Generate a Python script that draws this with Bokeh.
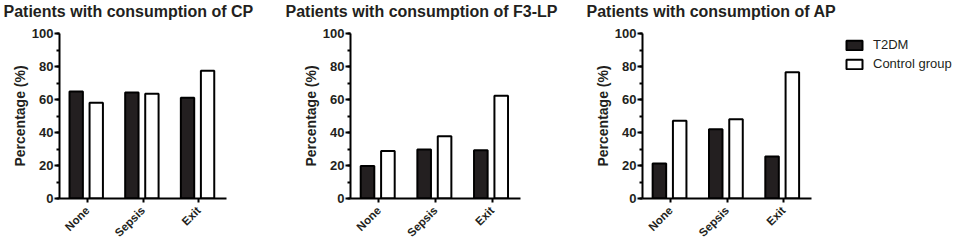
from math import pi
from bokeh.plotting import figure
from bokeh.layouts import row
from bokeh.models import (ColumnDataSource, FactorRange, Range1d, SingleIntervalTicker,
                          Legend, LegendItem, Title)
from bokeh.transform import dodge
from bokeh.embed import file_html
from bokeh.resources import INLINE

categories = ["None", "Sepsis", "Exit"]
titles = ["Patients with consumption of CP",
          "Patients with consumption of F3-LP",
          "Patients with consumption of AP"]
series_names = ["T2DM", "Control group"]
y_label = "Percentage (%)"

cp_t2dm = [64.8, 64.2, 61.0]
cp_control = [58.0, 63.5, 77.4]
f3lp_t2dm = [19.7, 29.7, 29.3]
f3lp_control = [28.8, 37.7, 62.2]
ap_t2dm = [21.2, 41.9, 25.5]
ap_control = [47.1, 48.0, 76.5]

FONT = "Liberation Sans"
DARK = "#231f20"
TXT = "#231f20"
T2DM_STYLE = dict(fill_color=DARK, line_color="black", line_width=2)
CTRL_STYLE = dict(fill_color="white", line_color="black", line_width=2)


def make_panel(title, t2dm, control, width, left, right, title_offset):
    p = figure(width=width, height=246, title=None,
               x_range=FactorRange(*categories, range_padding=0),
               y_range=Range1d(0, 100),
               output_backend="svg", toolbar_location=None,
               min_border_left=left, min_border_right=right,
               min_border_top=33, min_border_bottom=47)
    # spacer (closest to the frame) then the real title
    p.add_layout(Title(text=" ", text_font_size="1px", standoff=8), "above")
    p.add_layout(Title(text=title, align="left", vertical_align="top",
                       offset=title_offset, standoff=2, text_font=FONT,
                       text_font_size="16px", text_font_style="bold",
                       text_color=TXT), "above")
    p.xgrid.visible = False
    p.ygrid.visible = False
    p.outline_line_color = None
    p.background_fill_color = "white"
    p.border_fill_color = "white"

    ya = p.yaxis[0]
    ya.ticker = SingleIntervalTicker(interval=20, num_minor_ticks=2)
    ya.axis_label = y_label
    ya.axis_label_text_font = FONT
    ya.axis_label_text_font_style = "bold"
    ya.axis_label_text_font_size = "14px"
    ya.axis_label_text_color = TXT
    ya.axis_label_standoff = 1
    ya.major_label_text_font = FONT
    ya.major_label_text_font_style = "bold"
    ya.major_label_text_font_size = "13px"
    ya.major_label_text_color = TXT
    ya.major_label_standoff = 1
    ya.major_tick_out = 5
    ya.major_tick_in = 0
    ya.minor_tick_out = 3
    ya.minor_tick_in = 0
    ya.axis_line_width = 2
    ya.major_tick_line_width = 2
    ya.minor_tick_line_width = 2

    xa = p.xaxis[0]
    xa.major_label_orientation = pi / 4
    xa.major_label_text_font = FONT
    xa.major_label_text_font_style = "bold"
    xa.major_label_text_font_size = "11.5px"
    xa.major_label_text_color = TXT
    xa.major_label_standoff = 6
    xa.major_tick_out = 4
    xa.major_tick_in = 0
    xa.axis_line_width = 2
    xa.major_tick_line_width = 2

    src = ColumnDataSource(dict(cat=categories, t2dm=t2dm, control=control))
    p.vbar(x=dodge("cat", -0.2, range=p.x_range), top="t2dm", width=0.24,
           source=src, **T2DM_STYLE)
    p.vbar(x=dodge("cat", 0.16, range=p.x_range), top="control", width=0.24,
           source=src, **CTRL_STYLE)
    return p


p1 = make_panel(titles[0], cp_t2dm, cp_control, 285, 59, 59, -56)
p2 = make_panel(titles[1], f3lp_t2dm, f3lp_control, 301, 65, 66, -65)
p3 = make_panel(titles[2], ap_t2dm, ap_control, 254, 56, 29, -56)

# legend panel: the AP series as hidden renderers, used only for the legend swatches
pl = figure(width=117, height=246, output_backend="svg", toolbar_location=None,
            x_range=FactorRange(*categories), y_range=Range1d(0, 100),
            x_axis_type=None, y_axis_type=None,
            min_border_left=0, min_border_right=0,
            min_border_top=33, min_border_bottom=47)
pl.xgrid.visible = False
pl.ygrid.visible = False
pl.outline_line_color = None
pl.border_fill_color = "white"
pl.background_fill_color = "white"
lsrc = ColumnDataSource(dict(cat=categories, t2dm=ap_t2dm, control=ap_control))
lr1 = pl.vbar(x="cat", top="t2dm", width=0.3, source=lsrc, visible=False, **T2DM_STYLE)
lr2 = pl.vbar(x="cat", top="control", width=0.3, source=lsrc, visible=False, **CTRL_STYLE)
lg = Legend(items=[LegendItem(label=series_names[0], renderers=[lr1]),
                   LegendItem(label=series_names[1], renderers=[lr2])],
            location="top_left")
lg.margin = 4
lg.padding = 0
lg.border_line_color = None
lg.background_fill_alpha = 0
lg.glyph_width = 20
lg.glyph_height = 12
lg.label_standoff = 9
lg.label_height = 12
lg.spacing = 4
lg.label_text_font = FONT
lg.label_text_font_size = "13px"
lg.label_text_color = TXT
pl.add_layout(lg, "center")

layout = row(p1, p2, p3, pl)
open("out.html", "w").write(file_html(layout, INLINE))
